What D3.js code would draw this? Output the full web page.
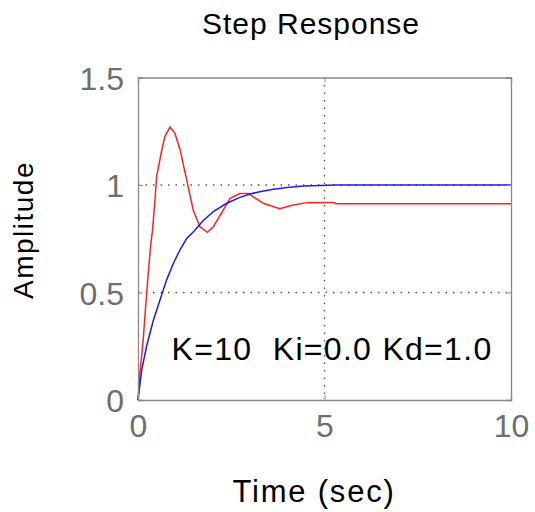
<!DOCTYPE html>
<html>
<head>
<meta charset="utf-8">
<script src="https://cdn.jsdelivr.net/npm/d3@7"></script>
<style>
  body { margin: 0; background: #fff; }
  text { font-family: "Liberation Sans", Arial, sans-serif; }
</style>
</head>
<body>
<svg id="chart" width="535" height="512"></svg>
<script>
// data
const blueTime = [0, 0.1, 0.23, 0.41, 0.59, 0.77, 0.95, 1.13, 1.3, 1.5, 1.75, 2.02, 2.38, 2.7, 3.0, 3.3, 3.63, 4.0, 4.43, 4.9, 5.3, 10];
const blueAmp  = [0, 0.14, 0.25, 0.37, 0.465, 0.56, 0.636, 0.70, 0.75, 0.785, 0.835, 0.876, 0.915, 0.94, 0.958, 0.97, 0.98, 0.988, 0.995, 0.998, 1.0, 1.0];

const redTime = [0, 0.05, 0.14, 0.19, 0.28, 0.34, 0.39, 0.45, 0.5, 0.635, 0.72, 0.86, 0.99, 1.13, 1.31, 1.48, 1.66, 1.86, 2.02, 2.29, 2.47, 2.73, 2.96, 3.36, 3.8, 4.16, 4.52, 5.24, 5.3, 10];
const redAmp  = [0, 0.124, 0.28, 0.40, 0.60, 0.72, 0.79, 0.92, 1.04, 1.16, 1.225, 1.27, 1.24, 1.163, 1.02, 0.884, 0.806, 0.78, 0.806, 0.884, 0.938, 0.96, 0.96, 0.915, 0.89, 0.907, 0.918, 0.919, 0.913, 0.913];

const xTicks = [0, 5, 10];
const yTicks = [0, 0.5, 1, 1.5];
const yTickLabels = ["0", "0.5", "1", "1.5"];

const svg = d3.select("#chart");
const width = 535, height = 512;
const margin = { top: 77.5, right: 24, bottom: 112, left: 138 };

const x = d3.scaleLinear().domain([0, 10]).range([margin.left, width - margin.right]);
const y = d3.scaleLinear().domain([0, 1.5]).range([height - margin.bottom, margin.top]);

// grid (dotted, interior ticks only)
svg.append("g").selectAll("line")
  .data(xTicks.filter(d => d > 0 && d < 10))
  .join("line")
  .attr("x1", d => x(d)).attr("x2", d => x(d))
  .attr("y1", y(1.5)).attr("y2", y(0))
  .attr("stroke", "#555").attr("stroke-width", 1.4).attr("stroke-dasharray", "1.5,6");

svg.append("g").selectAll("line")
  .data(yTicks.filter(d => d > 0 && d < 1.5))
  .join("line")
  .attr("x1", x(0)).attr("x2", x(10))
  .attr("y1", d => y(d)).attr("y2", d => y(d))
  .attr("stroke", "#555").attr("stroke-width", 1.4).attr("stroke-dasharray", "1.5,6");

// curves
const line = d3.line().x(d => x(d[0])).y(d => y(d[1]));
svg.append("path")
  .datum(d3.zip(redTime, redAmp))
  .attr("d", line).attr("fill", "none")
  .attr("stroke", "#ff2020").attr("stroke-width", 1.5);
svg.append("path")
  .datum(d3.zip(blueTime, blueAmp))
  .attr("d", line).attr("fill", "none")
  .attr("stroke", "#1a1aff").attr("stroke-width", 1.5);

// axes (ticks inside, on all sides)
const tickLen = 5;
const axB = svg.append("g").attr("transform", `translate(0,${y(0)})`)
  .call(d3.axisBottom(x).tickValues(xTicks).tickSize(-tickLen).tickPadding(14).tickFormat(d3.format("d")));
const axT = svg.append("g").attr("transform", `translate(0,${y(1.5)})`)
  .call(d3.axisTop(x).tickValues(xTicks).tickSize(-tickLen).tickFormat(""));
const axL = svg.append("g").attr("transform", `translate(${x(0)},0)`)
  .call(d3.axisLeft(y).tickValues(yTicks).tickSize(-tickLen).tickPadding(14).tickFormat((d, i) => yTickLabels[i]));
const axR = svg.append("g").attr("transform", `translate(${x(10)},0)`)
  .call(d3.axisRight(y).tickValues(yTicks).tickSize(-tickLen).tickFormat(""));

[axB, axT, axL, axR].forEach(g => {
  g.select(".domain").attr("stroke", "#8a8a8a").attr("stroke-width", 1.3);
  g.selectAll(".tick line").attr("stroke", "#8a8a8a");
  g.selectAll(".tick text")
    .attr("fill", "#6e6e6e")
    .style("font-family", "'Liberation Sans', Arial, sans-serif")
    .style("font-size", "32px");
});
axB.selectAll(".tick text").attr("dy", "0.71em");
axL.selectAll(".tick text").attr("dy", "0.36em");

// titles
svg.append("text")
  .attr("x", 311).attr("y", 34)
  .attr("text-anchor", "middle")
  .style("font-size", "30px").style("letter-spacing", "1px")
  .text("Step Response");

svg.append("text")
  .attr("x", 314).attr("y", 502)
  .attr("text-anchor", "middle")
  .style("font-size", "31px").style("letter-spacing", "1.8px")
  .text("Time (sec)");

svg.append("text")
  .attr("transform", `translate(33,230) rotate(-90)`)
  .attr("text-anchor", "middle")
  .style("font-size", "28px").style("letter-spacing", "1.5px")
  .text("Amplitude");

// annotation
svg.append("text")
  .attr("x", x(0.9)).attr("y", y(0.186))
  .style("font-size", "32px").style("letter-spacing", "1.3px")
  .attr("xml:space", "preserve")
  .style("white-space", "pre")
  .text("K=10  Ki=0.0 Kd=1.0");
</script>
</body>
</html>
